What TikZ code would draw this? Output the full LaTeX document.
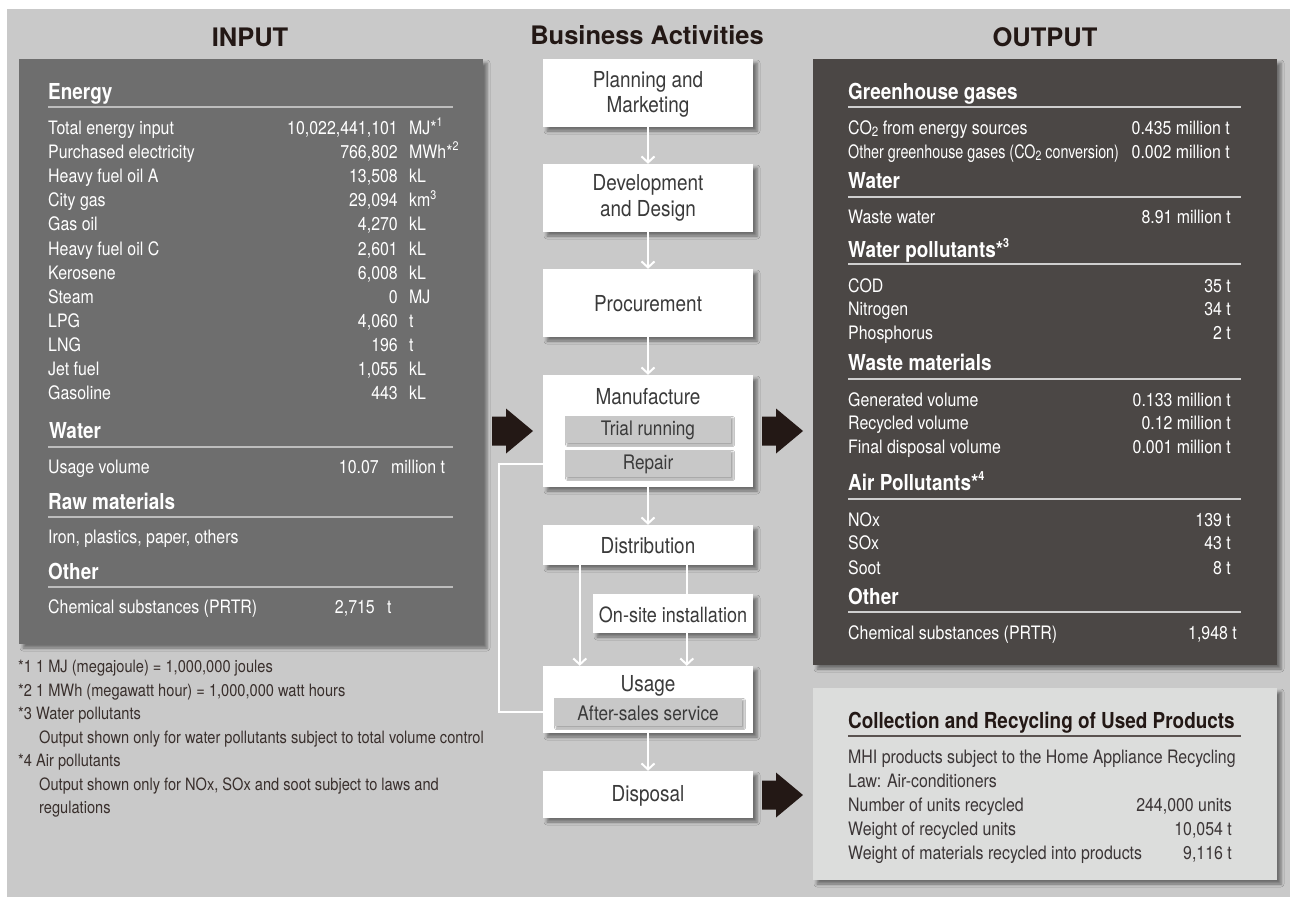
\documentclass[tikz,border=0pt]{standalone}
\usepackage{fontspec}
\setmainfont{TeX Gyre Heros}[FakeStretch=0.86]
\newfontfamily\widefont{TeX Gyre Heros}
\usetikzlibrary{arrows.meta,shadows.blur,calc}
\definecolor{bgc}{HTML}{C9C9C9}
\definecolor{inboxc}{HTML}{6E6E6E}
\definecolor{outboxc}{HTML}{4B4745}
\definecolor{recyc}{HTML}{DCDDDC}
\definecolor{subboxc}{HTML}{C8C8C8}
\definecolor{arrowc}{HTML}{231815}
\definecolor{boxtext}{HTML}{3A3A3A}
\definecolor{rectext}{HTML}{3B3536}
\definecolor{inrule}{HTML}{BDBDBD}
\definecolor{outrule}{HTML}{CFCFCF}
\newcommand\sups[1]{\raisebox{0.42em}{\fontsize{12.5}{13}\selectfont #1}}
\newcommand\subtwo{\raisebox{-0.12em}{\fontsize{13.5}{14}\selectfont 2}}
\begin{document}
\begin{tikzpicture}[x=1pt,y=-1pt,
  sh/.style={blur shadow={shadow xshift=4pt,shadow yshift=-4pt,shadow blur radius=3pt,shadow opacity=45}},
  panel/.style={draw=none,inner sep=0,sh},
  wbox/.style={panel,fill=white,minimum width=210},
  gbox/.style={draw=none,inner sep=0,fill=subboxc,blur shadow={shadow xshift=2pt,shadow yshift=-2pt,shadow blur radius=1.5pt,shadow opacity=35}},
  btxt/.style={inner sep=0,text=boxtext,font=\fontsize{22}{25.5}\selectfont,align=center},
  stxt/.style={inner sep=0,text=boxtext,font=\fontsize{20}{22}\selectfont},
  title/.style={inner sep=0,text=arrowc,font={\widefont\fontsize{25.5}{28}\selectfont\bfseries},anchor=base},
  body/.style={inner sep=0,text=white,font=\fontsize{18.5}{20}\selectfont},
  hdr/.style={inner sep=0,text=white,font=\fontsize{22}{24}\selectfont\bfseries,anchor=base west},
  lft/.style={body,anchor=base west},
  rgt/.style={body,anchor=base east},
  inline/.style={line width=1.4pt,draw=inrule},
  outline/.style={line width=1.4pt,draw=outrule},
  rbody/.style={inner sep=0,text=rectext,font=\fontsize{18.5}{20}\selectfont},
  fn/.style={inner sep=0,text=arrowc!90!white,font=\fontsize{17}{19}\selectfont,anchor=base west},
  flow/.style={draw=white,line width=2pt,-{Straight Barb[length=6pt,width=13pt,line width=2pt]}},
  plain/.style={draw=white,line width=2pt},
  bigarr/.style={fill=arrowc,draw=none}]
\useasboundingbox (0,0) rectangle (1290,897);
\fill[white] (0,0) rectangle (1290,897);
\fill[bgc] (7,9) rectangle (1290,897);

% titles
\node[title] (tin) at (250,46.5) {INPUT};
\node[title] (tba) at (647,44) {Business Activities};
\node[title] (tout) at (1045,46.5) {OUTPUT};

% ===== INPUT panel =====
\node[panel,fill=inboxc,minimum width=464,minimum height=585] (inbox) at (251,351.5) {};
\node[hdr] (inh1) at (48,99) {Energy};
\draw[inline] (48,107) -- (453,107);
\newcommand\erow[5]{%
  \node[lft] (#1l) at (48,#2) {#3};
  \node[rgt] (#1v) at (398,#2) {#4};
  \node[lft] (#1u) at (409,#2) {#5};}
\erow{e1}{134.5}{Total energy input}{10,022,441,101}{MJ*\sups{1}}
\erow{e2}{158.6}{Purchased electricity}{766,802}{MWh*\sups{2}}
\erow{e3}{182.7}{Heavy fuel oil A}{13,508}{kL}
\erow{e4}{206.8}{City gas}{29,094}{km\sups{3}}
\erow{e5}{230.9}{Gas oil}{4,270}{kL}
\erow{e6}{255.0}{Heavy fuel oil C}{2,601}{kL}
\erow{e7}{279.1}{Kerosene}{6,008}{kL}
\erow{e8}{303.2}{Steam}{0}{MJ}
\erow{e9}{327.3}{LPG}{4,060}{t}
\erow{e10}{351.4}{LNG}{196}{t}
\erow{e11}{375.5}{Jet fuel}{1,055}{kL}
\erow{e12}{399.6}{Gasoline}{443}{kL}
\node[hdr] (inh2) at (49,438) {Water};
\draw[inline] (48,447) -- (453,447);
\node[lft] (w1l) at (48,473.5) {Usage volume};
\node[rgt] (w1v) at (379,473.5) {10.07};
\node[lft] (w1u) at (391,473.5) {million t};
\node[hdr] (inh3) at (48,509) {Raw materials};
\draw[inline] (48,517) -- (453,517);
\node[lft] (r1l) at (48,543.5) {Iron, plastics, paper, others};
\node[hdr] (inh4) at (48,579) {Other};
\draw[inline] (48,587) -- (453,587);
\node[lft] (o1l) at (48,613.5) {Chemical substances (PRTR)};
\node[rgt] (o1v) at (375,613.5) {2,715};
\node[lft] (o1u) at (387,613.5) {t};

% footnotes
\node[fn] (f1) at (18,672.5) {*1 1 MJ (megajoule) = 1,000,000 joules};
\node[fn] (f2) at (18,696) {*2 1 MWh (megawatt hour) = 1,000,000 watt hours};
\node[fn] (f3) at (18,719.5) {*3 Water pollutants};
\node[fn] (f4) at (39,743) {Output shown only for water pollutants subject to total volume control};
\node[fn] (f5) at (18,766.5) {*4 Air pollutants};
\node[fn] (f6) at (39,790) {Output shown only for NOx, SOx and soot subject to laws and};
\node[fn] (f7) at (39,813.5) {regulations};

% ===== Business activities =====
\node[wbox,minimum height=68] (plan) at (648,93) {};
\node[btxt] (plant) at (648,94.5) {Planning and\\Marketing};
\node[wbox,minimum height=68] (dev) at (648,198) {};
\node[btxt] (devt) at (648,198) {Development\\and Design};
\node[wbox,minimum height=68] (proc) at (648,303) {};
\node[btxt] (proct) at (648,304) {Procurement};
\node[wbox,minimum height=112] (manuf) at (648,431) {};
\node[btxt] (manuft) at (648,397) {Manufacture};
\node[gbox,minimum width=166,minimum height=27] (trial) at (648,429.5) {};
\node[stxt] (trialt) at (648,430.5) {Trial running};
\node[gbox,minimum width=166,minimum height=27] (repair) at (648,463.5) {};
\node[stxt] (repairt) at (648,464.5) {Repair};
\node[wbox,minimum height=40] (dist) at (648,545) {};
\node[btxt] (distt) at (648,546) {Distribution};
\node[panel,fill=white,minimum width=160,minimum height=39] (onsite) at (673,613.5) {};
\node[btxt,font=\fontsize{21}{23}\selectfont] (onsitet) at (673,614.5) {On-site installation};
\node[wbox,minimum height=67] (usage) at (648,699.5) {};
\node[btxt] (usaget) at (648,685.5) {Usage};
\node[gbox,minimum width=188,minimum height=28] (after) at (648,712) {};
\node[stxt] (aftert) at (648,713) {After-sales service};
\node[wbox,minimum height=47] (disp) at (648,794.5) {};
\node[btxt] (dispt) at (648,796) {Disposal};

% connectors
\draw[flow] (plan.south) -- (dev.north);
\draw[flow] (dev.south) -- (proc.north);
\draw[flow] (proc.south) -- (manuf.north);
\draw[flow] (manuf.south) -- (dist.north);
\draw[flow] ([xshift=37pt]dist.south west) -- ([xshift=37pt]usage.north west);
\draw[plain] ([xshift=144pt]dist.south west) -- ([xshift=144pt]dist.south west |- onsite.north);
\draw[flow] ([xshift=144pt]dist.south west |- onsite.south) -- ([xshift=144pt]usage.north west);
\draw[flow] (usage.south) -- (disp.north);
\draw[plain] (usage.west |- after.center) -- ++(-44,0) |- (manuf.west |- repair.center);

% big arrows
\coordinate (ba1) at (492,431);
\coordinate (ba2) at (762,431);
\coordinate (ba3) at (762,795);
\foreach \c in {ba1,ba2,ba3}{
  \fill[bigarr] (\c) ++(0,-14.5) -- ++(14,0) -- ++(0,-8) -- ++(27,22.5) -- ++(-27,22.5) -- ++(0,-8) -- ++(-14,0) -- cycle;}

% ===== OUTPUT panel =====
\node[panel,fill=outboxc,minimum width=464,minimum height=606] (outbox) at (1045,362) {};
\node[hdr] (oh1) at (848,99) {Greenhouse gases};
\draw[outline] (848,107) -- (1241,107);
\node[lft] (g1l) at (848,134.5) {CO\subtwo{} from energy sources};
\node[rgt] (g1v) at (1230,134.5) {0.435 million t};
\node[lft] (g2l) at (848,158.5) {\scalebox{0.9}[1]{Other greenhouse gases (CO\subtwo{} conversion)}};
\node[rgt] (g2v) at (1230,158.5) {0.002 million t};
\node[hdr] (oh2) at (848,188) {Water};
\draw[outline] (848,197) -- (1241,197);
\node[lft] (ww1l) at (848,223.5) {Waste water};
\node[rgt] (ww1v) at (1231,223.5) {8.91 million t};
\node[hdr] (oh3) at (848,257) {Water pollutants*\sups{\bfseries 3}};
\draw[outline] (848,264) -- (1241,264);
\node[lft] (p1l) at (848,292.5) {COD};
\node[rgt] (p1v) at (1231,292.5) {35 t};
\node[lft] (p2l) at (848,315.5) {Nitrogen};
\node[rgt] (p2v) at (1231,315.5) {34 t};
\node[lft] (p3l) at (848,339.5) {Phosphorus};
\node[rgt] (p3v) at (1231,339.5) {2 t};
\node[hdr] (oh4) at (848,370) {Waste materials};
\draw[outline] (848,379) -- (1241,379);
\node[lft] (m1l) at (848,406.5) {Generated volume};
\node[rgt] (m1v) at (1231,406.5) {0.133 million t};
\node[lft] (m2l) at (848,429.5) {Recycled volume};
\node[rgt] (m2v) at (1231,429.5) {0.12 million t};
\node[lft] (m3l) at (848,453.5) {Final disposal volume};
\node[rgt] (m3v) at (1231,453.5) {0.001 million t};
\node[hdr] (oh5) at (848,490) {Air Pollutants*\sups{\bfseries 4}};
\draw[outline] (848,499) -- (1241,499);
\node[lft] (a1l) at (848,526.5) {NOx};
\node[rgt] (a1v) at (1231,526.5) {139 t};
\node[lft] (a2l) at (848,549.5) {SOx};
\node[rgt] (a2v) at (1231,549.5) {43 t};
\node[lft] (a3l) at (848,574.5) {Soot};
\node[rgt] (a3v) at (1231,574.5) {8 t};
\node[hdr] (oh6) at (848,604) {Other};
\draw[outline] (848,612) -- (1241,612);
\node[lft] (c1l) at (848,639.5) {Chemical substances (PRTR)};
\node[rgt] (c1v) at (1237,639.5) {1,948 t};

% ===== Recycling panel =====
\node[panel,fill=recyc,minimum width=464,minimum height=192] (recy) at (1045,784) {};
\node[hdr,text=arrowc] (rh) at (848,728) {Collection and Recycling of Used Products};
\draw[line width=1.4pt,draw=arrowc!75!white] (848,736) -- (1241,736);
\node[rbody,anchor=base west] (rc1) at (848,763.5) {MHI products subject to the Home Appliance Recycling};
\node[rbody,anchor=base west] (rc2) at (848,787.5) {Law: Air-conditioners};
\node[rbody,anchor=base west] (rc3l) at (848,811.5) {Number of units recycled};
\node[rbody,anchor=base east] (rc3v) at (1232,811.5) {244,000 units};
\node[rbody,anchor=base west] (rc4l) at (848,835.5) {Weight of recycled units};
\node[rbody,anchor=base east] (rc4v) at (1232,835.5) {10,054 t};
\node[rbody,anchor=base west] (rc5l) at (848,859.5) {Weight of materials recycled into products};
\node[rbody,anchor=base east] (rc5v) at (1232,859.5) {9,116 t};
\end{tikzpicture}
\end{document}
